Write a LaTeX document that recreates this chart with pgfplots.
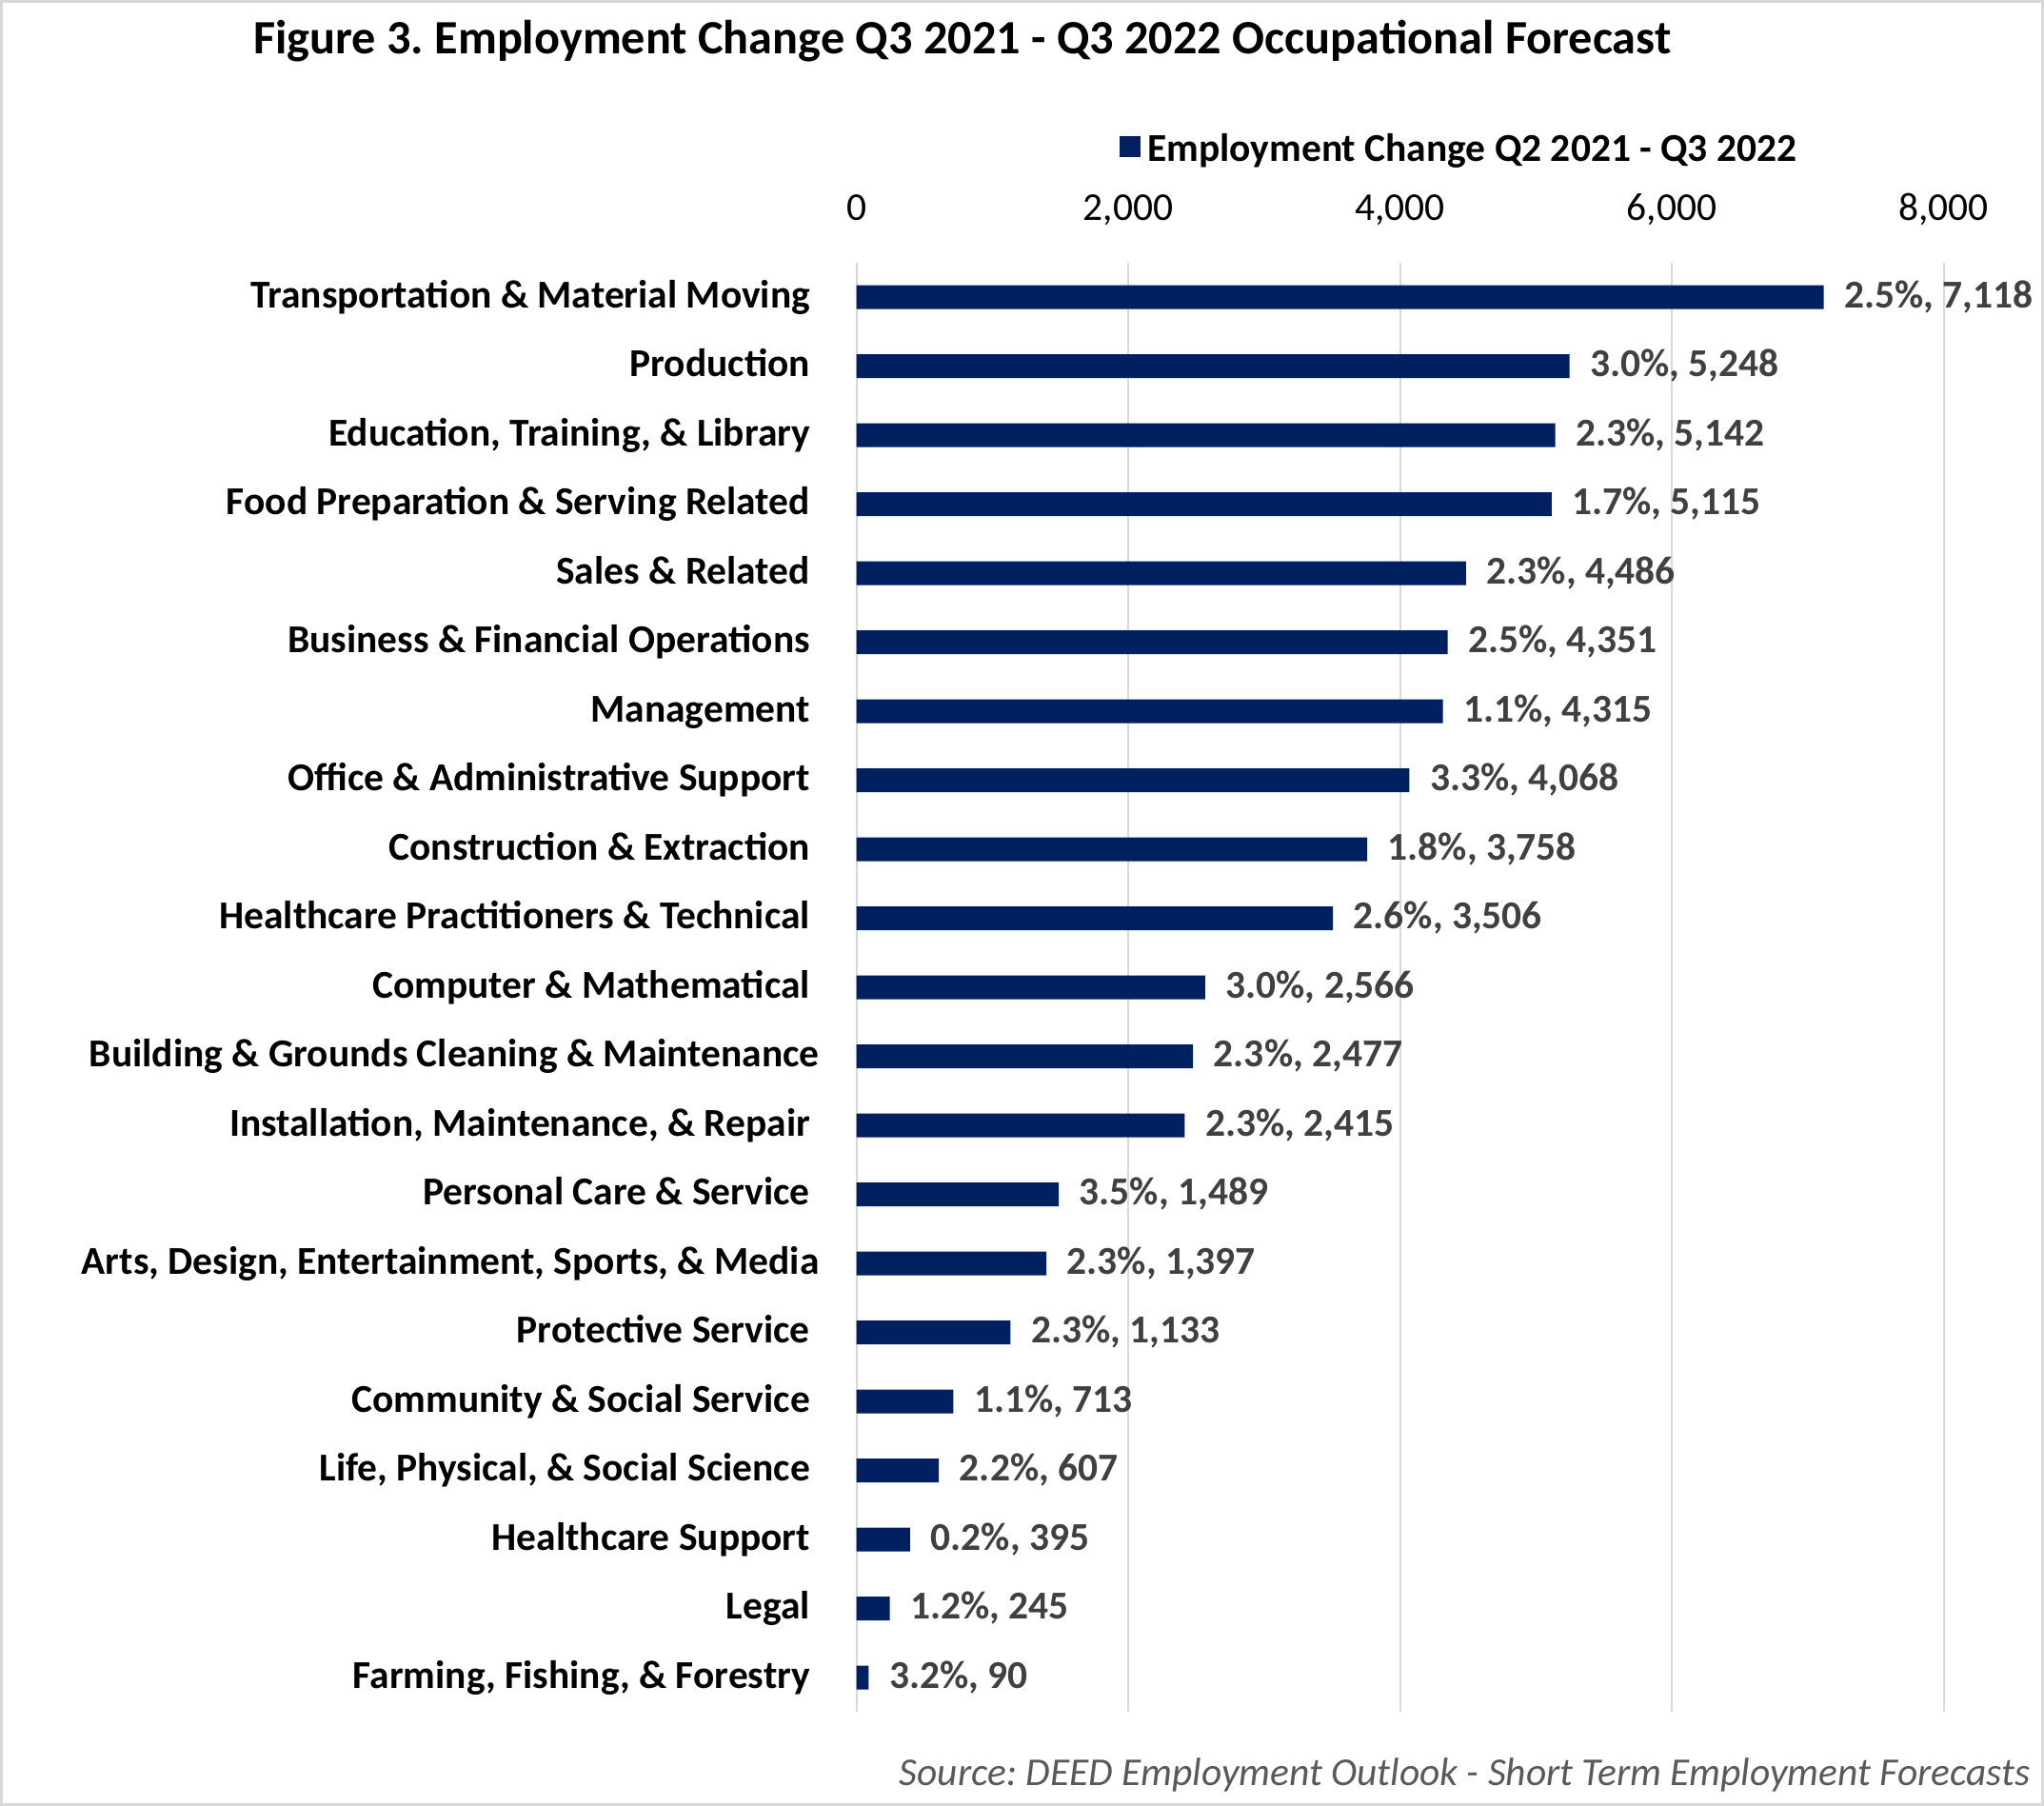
\documentclass[border=0pt]{standalone}
\usepackage{pgfplots}
\pgfplotsset{compat=1.18}
\usepackage{pgfplotstable}
\usepackage{fontspec}
\setmainfont{Carlito}
\frenchspacing

\definecolor{barblue}{HTML}{002060}
\definecolor{labgray}{HTML}{404040}
\definecolor{gridgray}{HTML}{D9D9D9}
\definecolor{srcgray}{HTML}{595959}

% pos 20 = top row of the chart
\pgfplotstableread[col sep=comma]{
pos,value,pct
20,7118,2.5
19,5248,3.0
18,5142,2.3
17,5115,1.7
16,4486,2.3
15,4351,2.5
14,4315,1.1
13,4068,3.3
12,3758,1.8
11,3506,2.6
10,2566,3.0
9,2477,2.3
8,2415,2.3
7,1489,3.5
6,1397,2.3
5,1133,2.3
4,713,1.1
3,607,2.2
2,395,0.2
1,245,1.2
0,90,3.2
}\occdata

\newcommand{\lab}{\fontsize{11.8}{14}\selectfont}

\begin{document}
\begin{tikzpicture}[x=1cm,y=1cm]
\useasboundingbox (0,0) rectangle (21.47,18.97);
\fill[white] (0,0) rectangle (21.47,18.97);
\draw[gridgray, line width=0.03cm] (0.015,0.015) rectangle (21.455,18.955);

\node[anchor=base, font=\fontsize{14.3}{17}\selectfont\bfseries] at (10.108,18.40)
  {Figure 3. Employment Change Q3 2021 - Q3 2022 Occupational Forecast};

\begin{axis}[
    at={(8.996cm,0.985cm)}, anchor=south west,
    scale only axis,
    width=11.42cm, height=15.225cm,
    xbar, bar width=0.25cm, bar shift=0pt,
    xmin=0, xmax=8000, ymin=-0.5, ymax=20.5,
    axis line style={draw=none},
    tick style={draw=none},
    xtick={0,2000,4000,6000,8000},
    xticklabels={0,{2,000},{4,000},{6,000},{8,000}},
    scaled x ticks=false,
    xticklabel pos=upper,
    xmajorgrids,
    grid style={gridgray, line width=0.02cm},
    xticklabel style={font=\lab, anchor=base, inner sep=0pt, yshift=0.44cm},
    ytick={0,...,20},
    yticklabels={
        {Farming, Fishing, \& Forestry},
        {Legal},
        {Healthcare Support},
        {Life, Physical, \& Social Science},
        {Community \& Social Service},
        {Protective Service},
        {Arts, Design, Entertainment, Sports, \& Media\kern-0.095cm},
        {Personal Care \& Service},
        {Installation, Maintenance, \& Repair},
        {Building \& Grounds Cleaning \& Maintenance\kern-0.095cm},
        {Computer \& Mathematical},
        {Healthcare Practitioners \& Technical},
        {Construction \& Extraction},
        {Office \& Administrative Support},
        {Management},
        {Business \& Financial Operations},
        {Sales \& Related},
        {Food Preparation \& Serving Related},
        {Education, Training, \& Library},
        {Production},
        {Transportation \& Material Moving}},
    yticklabel style={font=\lab\bfseries, anchor=base east, inner sep=0pt, xshift=-0.33cm, yshift=-0.11cm},
    legend style={at={(0.2417,1.0779)}, anchor=west, draw=none, fill=none, inner sep=0pt,
        font=\lab\bfseries, legend cell align=left},
    clip=false,
]
\addplot[fill=barblue, draw=none,
    point meta=x,
    visualization depends on={\thisrow{pct}\as\pct},
    nodes near coords={\pgfmathprintnumber[fixed,fixed zerofill,precision=1,assume math mode=true]{\pct}\%, \pgfmathprintnumber[fixed,precision=0,1000 sep={,},assume math mode=true]{\pgfplotspointmeta}},
    nodes near coords style={font=\lab\bfseries, color=labgray, anchor=base west, inner sep=0pt, xshift=0.21cm, yshift=-0.11cm},
    legend image code/.code={\fill[barblue] (0cm,-0.08cm) rectangle (0.22cm,0.14cm);},
] table[x=value, y=pos] {\occdata};
\addlegendentry{Employment Change Q2 2021 - Q3 2022}
\end{axis}

\node[anchor=base east, font=\lab\itshape, text=srcgray] at (21.45,0.21)
  {Source: DEED Employment Outlook - Short Term Employment Forecasts};
\end{tikzpicture}
\end{document}
